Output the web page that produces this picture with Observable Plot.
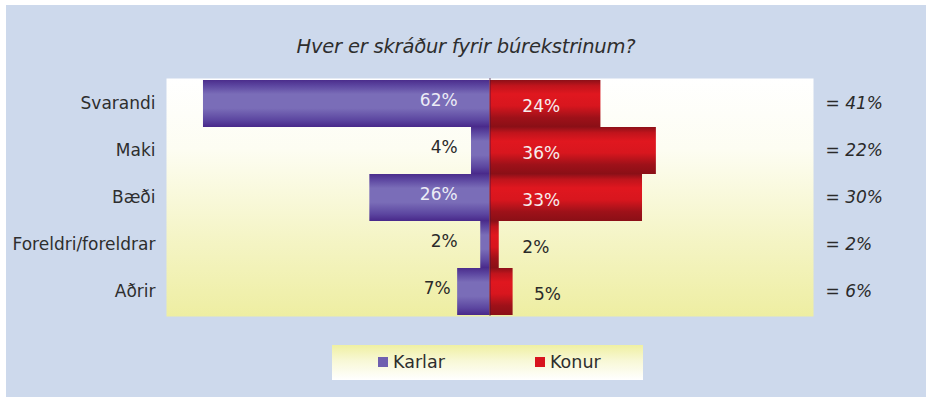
<!DOCTYPE html>
<html>
<head>
<meta charset="utf-8">
<script src="https://cdn.jsdelivr.net/npm/d3@7"></script>
<script src="https://cdn.jsdelivr.net/npm/@observablehq/plot@0.6"></script>
<style>
  html, body { margin: 0; padding: 0; background: #ffffff; }
  body { width: 930px; height: 401px; position: relative; overflow: hidden; font-family: "DejaVu Sans", Verdana, sans-serif; }
  #bg { position: absolute; left: 6px; top: 5px; width: 920px; height: 392px; background: #cdd9ec; }
  #title { position: absolute; left: 6px; top: 35px; width: 920px; text-align: center; font-size: 19.5px; font-style: italic; color: #2e2e2e; letter-spacing: -0.2px; }
  #chart { position: absolute; left: 6px; top: 59px; }
  #legend { position: absolute; left: 332px; top: 345px; width: 311px; height: 35px;
            background: linear-gradient(to bottom, #eff0a2 0%, #f8f8d6 45%, #ffffff 100%); }
  .item { position: absolute; top: 7px; font-size: 17.5px; color: #2e2e2e; display: flex; align-items: center; }
  .sw { width: 10px; height: 10px; margin-right: 5px; display: inline-block; }
</style>
</head>
<body>
<div id="bg"></div>
<div id="title">Hver er skráður fyrir búrekstrinum?</div>
<div id="chart"></div>
<div id="legend"></div>
<script>
const categories = ["Svarandi", "Maki", "Bæði", "Foreldri/foreldrar", "Aðrir"];
const karlar = [62, 4, 26, 2, 7];
const konur = [24, 36, 33, 2, 5];
const totals = [41, 22, 30, 2, 6];
const seriesNames = ["Karlar", "Konur"];
const seriesColors = ["#6f5fb0", "#d8141e"];

const rows = categories.map((c, i) => ({cat: c, karlar: karlar[i], konur: konur[i], total: totals[i]}));

const inside = v => v >= 20;

const chart = Plot.plot({
  width: 920,
  height: 267,
  marginLeft: 160,
  marginRight: 113,
  marginTop: 19,
  marginBottom: 10,
  style: {background: "transparent", fontFamily: "DejaVu Sans, sans-serif", fontSize: "17px", color: "#2e2e2e", overflow: "visible"},
  x: {domain: [-70, 70], axis: null},
  y: {domain: categories, padding: 0, label: null, tickSize: 0, tickPadding: 11},
  marks: [
    Plot.frame({fill: "url(#plotBg)", stroke: "none"}),
    Plot.barX(rows, {y: "cat", x1: 0, x2: d => -d.karlar, fill: "url(#gradK)", inset: 0}),
    Plot.barX(rows, {y: "cat", x1: 0, x2: d => d.konur, fill: "url(#gradR)", inset: 0}),
    Plot.ruleX([0], {stroke: "#3b1646", strokeWidth: 1, strokeOpacity: 0.7}),
    Plot.text(rows, {y: "cat", x: d => inside(d.karlar) ? -7 : -Math.max(7, d.karlar + 1.5), text: d => d.karlar + "%", textAnchor: "end", dy: -3,
      fill: d => inside(d.karlar) ? "#ececf6" : "#2a2a2a", fontSize: 17}),
    Plot.text(rows, {y: "cat", x: d => inside(d.konur) ? 7 : Math.max(7, d.konur + 4.5), text: d => d.konur + "%", textAnchor: "start", dy: 3,
      fill: d => inside(d.konur) ? "#f6eeee" : "#2a2a2a", fontSize: 17}),
    Plot.text(rows, {y: "cat", x: () => 70, text: d => "= " + d.total + "%", textAnchor: "start", dx: 12,
      fill: "#2a2a2a", fontSize: 17, fontStyle: "italic"})
  ]
});

const svg = d3.select(chart);
const defs = svg.insert("defs", ":first-child");
function vgrad(id, stops) {
  const g = defs.append("linearGradient").attr("id", id).attr("x1", 0).attr("y1", 0).attr("x2", 0).attr("y2", 1);
  stops.forEach(([o, c]) => g.append("stop").attr("offset", o).attr("stop-color", c));
}
vgrad("plotBg", [[0, "#ffffff"], [0.3, "#fdfdf2"], [0.65, "#f5f5c8"], [1, "#eeeea2"]]);
vgrad("gradK", [[0, "#4b2d8c"], [0.12, "#5c46a0"], [0.3, "#7a6db8"], [0.6, "#7a6db8"], [0.85, "#5c46a0"], [1, "#48288a"]]);
vgrad("gradR", [[0, "#8c1018"], [0.12, "#c0141c"], [0.3, "#e0171f"], [0.55, "#d8161e"], [0.8, "#9e1119"], [1, "#8a0f16"]]);

document.getElementById("chart").appendChild(chart);

const legend = document.getElementById("legend");
const lefts = [46, 203];
seriesNames.forEach((n, i) => {
  const it = document.createElement("div");
  it.className = "item";
  it.style.left = lefts[i] + "px";
  const sw = document.createElement("span");
  sw.className = "sw";
  sw.style.background = seriesColors[i];
  it.appendChild(sw);
  it.appendChild(document.createTextNode(n));
  legend.appendChild(it);
});
</script>
</body>
</html>
